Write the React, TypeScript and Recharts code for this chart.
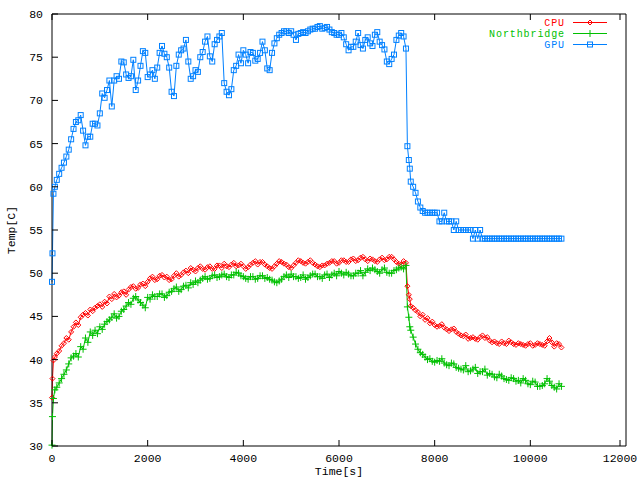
import { Legend, Line, LineChart, XAxis, YAxis } from 'recharts';

const FONT = '"Liberation Mono", "DejaVu Sans Mono", monospace';
const FONT_SIZE = 11.5;

// seconds since start of the log
const times = [
  0, 10, 30, 60, 100, 150, 200, 250,
  300, 350, 400, 450, 500, 550, 600, 650, 700, 750,
  800, 850, 900, 950, 1000, 1050, 1100, 1150, 1200, 1250,
  1300, 1350, 1400, 1450, 1500, 1550, 1600, 1650, 1700, 1750,
  1800, 1850, 1900, 1950, 2000, 2050, 2100, 2150, 2200, 2250,
  2300, 2350, 2400, 2450, 2500, 2550, 2600, 2650, 2700, 2750,
  2800, 2850, 2900, 2950, 3000, 3050, 3100, 3150, 3200, 3250,
  3300, 3350, 3400, 3450, 3500, 3550, 3600, 3650, 3700, 3750,
  3800, 3850, 3900, 3950, 4000, 4050, 4100, 4150, 4200, 4250,
  4300, 4350, 4400, 4450, 4500, 4550, 4600, 4650, 4700, 4750,
  4800, 4850, 4900, 4950, 5000, 5050, 5100, 5150, 5200, 5250,
  5300, 5350, 5400, 5450, 5500, 5550, 5600, 5650, 5700, 5750,
  5800, 5850, 5900, 5950, 6000, 6050, 6100, 6150, 6200, 6250,
  6300, 6350, 6400, 6450, 6500, 6550, 6600, 6650, 6700, 6750,
  6800, 6850, 6900, 6950, 7000, 7050, 7100, 7150, 7200, 7250,
  7300, 7350, 7400,
  7430, 7460, 7480, 7500, 7550, 7600, 7650, 7700,
  7750, 7800, 7850, 7900, 7950, 8000, 8050, 8100, 8150, 8200,
  8250, 8300, 8350, 8400, 8450, 8500, 8550, 8600, 8650, 8700,
  8750, 8800, 8850, 8900, 8950, 9000, 9050, 9100, 9150, 9200,
  9250, 9300, 9350, 9400, 9450, 9500, 9550, 9600, 9650, 9700,
  9750, 9800, 9850, 9900, 9950, 10000, 10050, 10100, 10150, 10200,
  10250, 10300, 10350, 10400, 10450, 10500, 10550, 10600, 10650,
];

const cpuTemp = [
  35.6, 37.8, 39.9, 40.3, 40.7, 41.0, 41.6, 41.9,
  42.5, 42.3, 43.2, 43.8, 44.3, 44.0, 44.9, 45.2, 45.4, 45.1,
  45.8, 45.6, 46.0, 46.2, 46.4, 46.1, 46.7, 46.5, 47.3, 47.0,
  47.6, 47.2, 47.4, 47.8, 47.9, 47.5, 48.1, 48.4, 48.5, 48.2,
  48.3, 48.7, 48.8, 48.5, 49.0, 49.4, 49.6, 49.2, 49.3, 49.7,
  49.8, 49.5, 49.6, 49.2, 49.3, 49.7, 50.0, 49.6, 49.8, 50.1,
  50.3, 50.0, 50.6, 50.4, 50.2, 50.6, 50.8, 50.5, 50.4, 50.7,
  50.8, 50.5, 50.5, 50.9, 50.9, 50.6, 51.1, 50.8, 50.7, 51.0,
  51.2, 50.8, 50.9, 51.1, 50.8, 50.5, 50.7, 51.0, 51.2, 51.4,
  51.0, 51.3, 51.3, 51.0, 50.8, 50.6, 50.5, 50.8, 51.1, 51.4,
  51.3, 51.1, 51.0, 50.7, 50.6, 50.9, 51.2, 51.5, 51.4, 51.2,
  51.1, 51.3, 51.5, 51.2, 51.0, 50.8, 50.7, 50.9, 50.9, 51.1,
  51.2, 51.4, 51.4, 51.1, 51.2, 51.5, 51.5, 51.3, 51.3, 51.6,
  51.7, 51.4, 51.5, 51.8, 51.9, 51.6, 51.4, 51.7, 51.6, 51.4,
  51.3, 51.6, 51.8, 51.5, 51.6, 51.9, 51.9, 51.6, 51.3, 51.1,
  51.0, 51.4, 51.2,
  48.5, 47.5, 47.0, 46.2, 46.0, 45.7, 45.5, 45.0,
  45.2, 44.6, 44.8, 44.2, 44.4, 44.0, 43.8, 43.9, 44.1, 43.7,
  43.5, 43.3, 43.5, 43.6, 43.2, 43.0, 42.8, 42.7, 42.9, 42.4,
  42.5, 42.6, 42.4, 42.3, 42.6, 42.8, 42.5, 42.6, 42.2, 42.0,
  42.1, 41.9, 41.8, 42.1, 41.9, 41.8, 42.2, 42.0, 41.8, 41.7,
  41.9, 41.8, 41.7, 41.6, 41.8, 41.9, 41.6, 41.7, 41.9, 41.8,
  41.7, 41.6, 42.1, 42.5, 42.0, 41.5, 41.9, 41.8, 41.4,
];

const northbridgeTemp = [
  30.1, 33.4, 35.5, 36.5, 36.8, 37.3, 37.8, 38.3,
  38.8, 39.5, 40.2, 40.4, 40.7, 40.3, 41.5, 41.2, 42.5, 42.0,
  43.2, 42.8, 43.4, 43.0, 43.8, 43.5, 44.1, 44.4, 44.6, 44.9,
  45.3, 44.8, 45.0, 45.6, 45.8, 46.2, 46.6, 46.4, 47.1, 47.3,
  46.9, 46.6, 46.3, 46.0, 47.2, 47.0, 47.5, 47.3, 47.3, 47.6,
  47.6, 47.2, 47.4, 47.8, 47.9, 48.2, 48.4, 47.9, 48.1, 48.5,
  48.6, 48.3, 48.9, 48.7, 49.1, 48.9, 49.2, 49.4, 49.6, 49.3,
  49.4, 49.7, 49.8, 49.5, 49.6, 49.8, 49.9, 49.6, 49.5, 49.8,
  49.8, 50.1, 50.0, 49.7, 49.6, 49.4, 49.3, 49.6, 49.6, 49.3,
  49.4, 49.7, 49.7, 49.4, 49.5, 49.3, 49.2, 49.0, 48.9, 49.1,
  49.3, 49.6, 49.8, 49.5, 49.9, 49.6, 49.6, 49.4, 49.5, 49.8,
  49.3, 49.5, 49.7, 49.9, 49.9, 49.6, 49.6, 49.4, 49.8, 49.9,
  49.5, 49.8, 50.0, 49.7, 50.2, 50.0, 49.8, 50.1, 49.9, 49.7,
  49.7, 50.0, 50.0, 50.3, 49.7, 50.1, 50.5, 50.3, 50.6, 50.4,
  50.2, 50.0, 50.4, 50.6, 50.1, 50.0, 50.0, 50.3, 50.4, 50.6,
  50.7, 50.5, 50.9,
  46.1, 44.9, 43.8, 43.4, 42.6, 41.8, 41.2, 40.8,
  40.6, 40.3, 40.0, 40.1, 39.8, 39.7, 39.9, 39.8, 40.1, 39.6,
  39.4, 39.3, 39.6, 39.5, 39.1, 39.0, 38.9, 38.8, 39.3, 38.6,
  38.7, 38.9, 39.1, 38.4, 38.6, 38.6, 38.9, 38.2, 38.4, 38.3,
  38.0, 37.9, 38.3, 38.1, 37.8, 37.7, 37.6, 37.9, 37.8, 37.5,
  37.6, 37.3, 37.8, 37.6, 37.2, 37.1, 37.5, 37.4, 36.9, 36.9,
  37.0, 37.2, 37.8, 37.5, 37.0, 36.8, 36.6, 37.2, 36.9,
];

const gpuTemp = [
  49.0, 52.3, 59.2, 60.0, 60.8, 61.5, 62.2, 62.8,
  63.5, 64.3, 65.5, 66.7, 67.5, 67.7, 68.3, 66.5, 64.8, 65.8,
  65.8, 67.3, 67.3, 67.1, 68.5, 70.8, 70.3, 71.2, 72.3, 69.3,
  72.3, 72.8, 72.5, 74.5, 74.4, 73.0, 72.6, 72.8, 74.7, 71.2,
  72.3, 74.0, 75.7, 75.5, 72.7, 73.0, 73.5, 72.5, 73.8, 75.5,
  76.3, 75.4, 75.0, 73.8, 71.0, 70.5, 74.0, 75.3, 75.8, 76.0,
  77.0, 74.5, 72.5, 72.8, 73.5, 73.3, 75.0, 75.6, 76.8, 77.4,
  75.1, 74.5, 76.5, 77.0, 77.4, 77.8, 72.0, 71.0, 70.6, 71.3,
  73.5, 74.0, 75.3, 74.3, 75.8, 75.3, 74.3, 75.6, 75.5, 74.6,
  74.8, 75.5, 76.8, 75.8, 73.7, 73.5, 75.5, 76.6, 77.2, 77.6,
  77.8, 78.0, 78.0, 77.8, 78.0, 77.6, 77.0, 77.7, 77.8, 77.9,
  77.8, 78.0, 78.2, 78.3, 78.3, 78.5, 78.6, 78.3, 78.4, 78.5,
  78.2, 77.9, 77.8, 77.6, 77.6, 77.8, 77.3, 76.5, 75.8, 76.2,
  76.2, 76.8, 77.8, 76.4, 76.0, 77.0, 77.3, 76.6, 76.3, 77.6,
  77.9, 76.8, 76.4, 75.9, 74.5, 74.2, 74.8, 75.3, 77.0, 77.5,
  77.8, 77.4, 76.0,
  64.7, 63.1, 62.1, 60.6, 60.0, 59.3, 58.3, 57.6,
  57.2, 57.0, 57.0, 57.0, 57.0, 57.0, 57.0, 56.0, 56.0, 57.0,
  56.0, 56.0, 56.0, 55.0, 56.0, 55.0, 55.0, 55.0, 55.0, 55.0,
  55.0, 54.0, 55.0, 54.0, 55.0, 54.0, 54.0, 54.0, 54.0, 54.0,
  54.0, 54.0, 54.0, 54.0, 54.0, 54.0, 54.0, 54.0, 54.0, 54.0,
  54.0, 54.0, 54.0, 54.0, 54.0, 54.0, 54.0, 54.0, 54.0, 54.0,
  54.0, 54.0, 54.0, 54.0, 54.0, 54.0, 54.0, 54.0, 54.0,
];

const xTicks = [0, 2000, 4000, 6000, 8000, 10000, 12000];
const yTicks = [30, 35, 40, 45, 50, 55, 60, 65, 70, 75, 80];
const seriesOrder = ['cpu', 'nb', 'gpu'];

const data = times.map((t, i) => ({
  time: t,
  cpu: cpuTemp[i],
  nb: northbridgeTemp[i],
  gpu: gpuTemp[i],
}));

const markerKinds: Record<string, string> = { cpu: 'diamond', nb: 'plus', gpu: 'square' };

function Marker({ kind, cx, cy, color }: { kind: string; cx: number; cy: number; color: string }) {
  if (kind === 'diamond') {
    return (
      <path
        d={`M${cx},${cy - 2.5}L${cx + 2.5},${cy}L${cx},${cy + 2.5}L${cx - 2.5},${cy}Z`}
        fill="none"
        stroke={color}
      />
    );
  }
  if (kind === 'plus') {
    return (
      <path d={`M${cx - 3.5},${cy}H${cx + 3.5}M${cx},${cy - 3.5}V${cy + 3.5}`} stroke={color} fill="none" />
    );
  }
  return <rect x={cx - 2.5} y={cy - 2.5} width={5} height={5} fill="none" stroke={color} />;
}

function dotFor(kind: string, color: string) {
  return (props: any) => {
    if (props.cx == null || props.cy == null) return <g key={`${kind}-${props.index}`} />;
    return <Marker key={`${kind}-${props.index}`} kind={kind} cx={props.cx} cy={props.cy} color={color} />;
  };
}

const textStyle = { fontFamily: FONT, fontSize: FONT_SIZE, fill: '#000' };

function BottomTick({ x, y, payload }: any) {
  return (
    <g>
      <line x1={x} y1={y} x2={x} y2={y - 6} stroke="#000" />
      <text x={x} y={y + 16} textAnchor="middle" {...textStyle}>
        {payload.value}
      </text>
    </g>
  );
}

function TopTick({ x, y }: any) {
  return <line x1={x} y1={y} x2={x} y2={y + 6} stroke="#000" />;
}

function LeftTick({ x, y, payload }: any) {
  return (
    <g>
      <line x1={x} y1={y} x2={x + 6} y2={y} stroke="#000" />
      <text x={x - 9} y={y + 4} textAnchor="end" {...textStyle}>
        {payload.value}
      </text>
    </g>
  );
}

function RightTick({ x, y }: any) {
  return <line x1={x} y1={y} x2={x - 6} y2={y} stroke="#000" />;
}

function KeyBox({ payload }: any) {
  const rows = [...(payload ?? [])].sort(
    (a: any, b: any) => seriesOrder.indexOf(a.dataKey) - seriesOrder.indexOf(b.dataKey),
  );
  return (
    <svg width={150} height={40} style={{ display: 'block' }}>
      {rows.map((entry: any, i: number) => {
        const y = 8.5 + i * 11;
        return (
          <g key={entry.value}>
            <text
              x={95}
              y={y + 3.5}
              textAnchor="end"
              fontFamily={FONT}
              fontSize={10}
              letterSpacing={0.9}
              fill={entry.color}
            >
              {entry.value}
            </text>
            <line x1={103} x2={137} y1={y} y2={y} stroke={entry.color} />
            <Marker kind={markerKinds[entry.dataKey]} cx={120} cy={y} color={entry.color} />
          </g>
        );
      })}
    </svg>
  );
}

export default function App() {
  return (
    <div style={{ position: 'absolute', left: 0, top: 0, width: 640, height: 480, background: '#fff' }}>
      <LineChart width={640} height={480} data={data} margin={{ top: 0, right: 0, bottom: 0, left: 0 }}>
        <XAxis
          dataKey="time"
          type="number"
          domain={[0, 12000]}
          ticks={xTicks}
          height={34}
          stroke="#000"
          tickLine={false}
          tickSize={0}
          tickMargin={0}
          tick={<BottomTick />}
          label={(p: any) => {
            const vb = p.viewBox;
            return (
              <text x={vb.x + vb.width / 2} y={vb.y + 29} textAnchor="middle" {...textStyle}>
                Time[s]
              </text>
            );
          }}
        />
        <XAxis
          xAxisId="top"
          orientation="top"
          dataKey="time"
          type="number"
          domain={[0, 12000]}
          ticks={xTicks}
          height={14}
          stroke="#000"
          tickLine={false}
          tickSize={0}
          tickMargin={0}
          tick={<TopTick />}
        />
        <YAxis
          type="number"
          domain={[30, 80]}
          ticks={yTicks}
          width={52}
          stroke="#000"
          tickLine={false}
          tickSize={0}
          tickMargin={0}
          tick={<LeftTick />}
          label={(p: any) => {
            const vb = p.viewBox;
            return (
              <text
                x={11}
                y={vb.y + vb.height / 2}
                textAnchor="middle"
                dominantBaseline="central"
                transform={`rotate(-90 11 ${vb.y + vb.height / 2})`}
                {...textStyle}
              >
                Temp[C]
              </text>
            );
          }}
        />
        <YAxis
          yAxisId="right"
          orientation="right"
          type="number"
          domain={[30, 80]}
          ticks={yTicks}
          width={14}
          stroke="#000"
          tickLine={false}
          tickSize={0}
          tickMargin={0}
          tick={<RightTick />}
        />
        <Legend
          layout="horizontal"
          verticalAlign="middle"
          align="center"
          width={150}
          height={40}
          wrapperStyle={{ top: 14, left: 470, width: 150, height: 40 }}
          content={<KeyBox />}
        />
        <Line
          dataKey="cpu"
          name="CPU"
          stroke="#ff0000"
          strokeWidth={1}
          dot={dotFor('diamond', '#ff0000')}
          activeDot={false}
          isAnimationActive={false}
        />
        <Line
          dataKey="nb"
          name="Northbridge"
          stroke="#00c000"
          strokeWidth={1}
          dot={dotFor('plus', '#00c000')}
          activeDot={false}
          isAnimationActive={false}
        />
        <Line
          dataKey="gpu"
          name="GPU"
          stroke="#0080ff"
          strokeWidth={1}
          dot={dotFor('square', '#0080ff')}
          activeDot={false}
          isAnimationActive={false}
        />
      </LineChart>
    </div>
  );
}
